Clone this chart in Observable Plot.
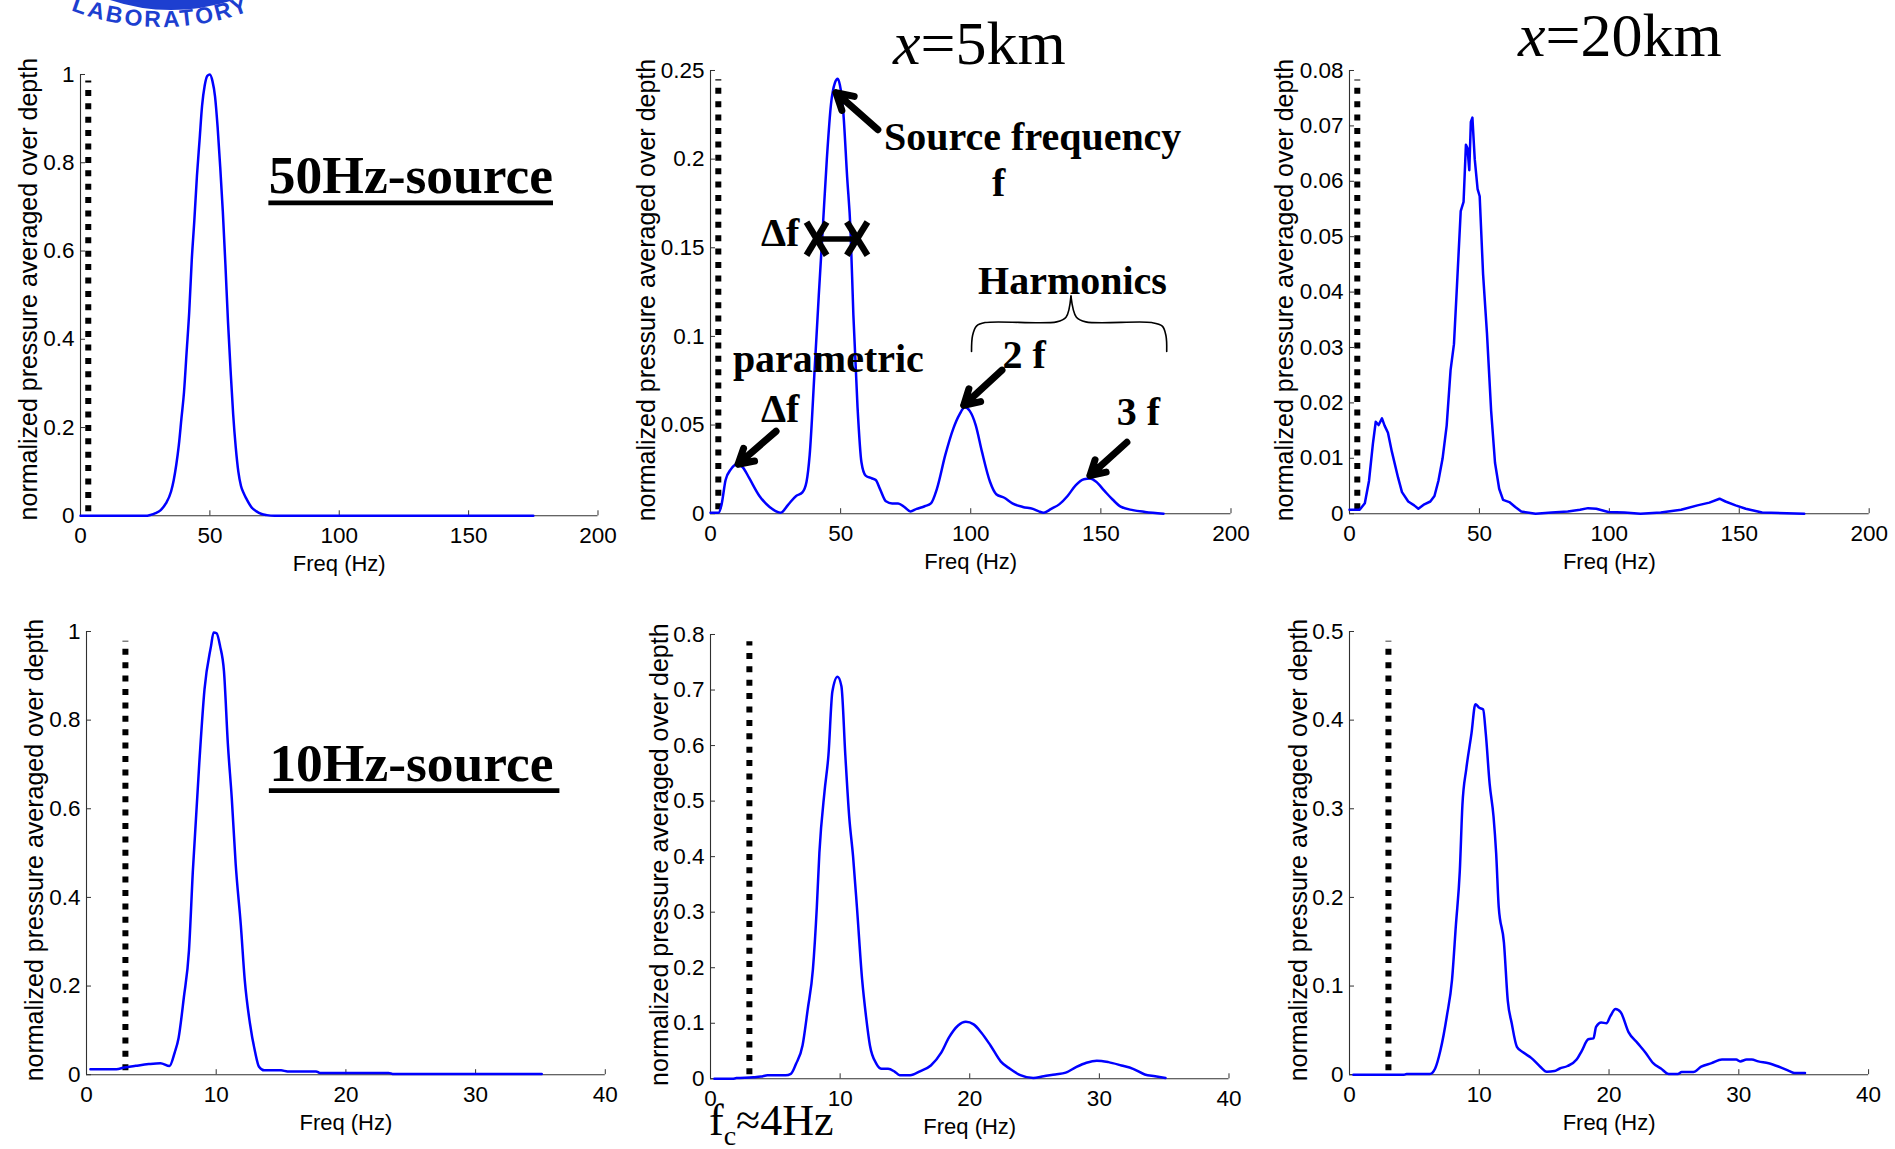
<!DOCTYPE html>
<html><head><meta charset="utf-8">
<script src="https://cdn.jsdelivr.net/npm/d3@7"></script>
<script src="https://cdn.jsdelivr.net/npm/@observablehq/plot@0.6"></script>
<style>
html,body{margin:0;padding:0;background:#fff;}
#root{position:relative;width:1895px;height:1149px;overflow:hidden;background:#fff;}
.panel{position:absolute;}
#overlay{position:absolute;left:0;top:0;}
</style></head><body><div id="root"></div>
<script>
// ---------- DATA ----------
const yLabel = "normalized pressure averaged over depth";
const xLabel = "Freq (Hz)";
const cutoffFreq = 3;
const xTicks50 = [0, 50, 100, 150, 200];
const xTicks10 = [0, 10, 20, 30, 40];
const yTicksA = [0, 0.2, 0.4, 0.6, 0.8, 1];
const yTicksB = [0, 0.05, 0.1, 0.15, 0.2, 0.25];
const yTicksC = [0, 0.01, 0.02, 0.03, 0.04, 0.05, 0.06, 0.07, 0.08];
const yTicksD = [0, 0.1, 0.2, 0.3, 0.4, 0.5, 0.6, 0.7, 0.8];
const yTicksE = [0, 0.1, 0.2, 0.3, 0.4, 0.5];
const dottedTop = [0.985, 0.2448, 0.0783, 0.978, 0.787, 0.489];

// 50 Hz source, at source
const fA = [0, 10, 20, 25, 27, 29, 31, 33, 35, 36, 37, 38, 39, 40, 41, 42, 43, 44, 45, 46, 47, 48, 49, 50, 51, 52, 53, 54, 55, 56, 57, 58, 59, 60, 61, 62, 63, 64, 66, 68, 70, 72, 75, 100, 125, 150, 175];
const vA = [0, 0, 0, 0, 0.002, 0.006, 0.013, 0.028, 0.055, 0.08, 0.115, 0.16, 0.22, 0.28, 0.37, 0.46, 0.58, 0.67, 0.77, 0.85, 0.93, 0.975, 0.997, 1.0, 0.985, 0.95, 0.88, 0.79, 0.69, 0.57, 0.44, 0.33, 0.23, 0.155, 0.10, 0.068, 0.052, 0.04, 0.02, 0.01, 0.004, 0.0015, 0, 0, 0, 0, 0];
// 50 Hz source, x = 5 km
const fB = [0, 3.1, 4.2, 5.8, 7.8, 10.5, 12.5, 14.9, 18.8, 22.7, 27, 29.8, 32.9, 35.3, 36.9, 38.1, 40, 41.6, 43.1, 44.7, 46.3, 47.8, 48.9, 49.7, 51, 52.5, 53.8, 54.9, 56.5, 58, 59.6, 61.9, 63.5, 65.1, 67.4, 69.8, 72.1, 74.5, 76.8, 79.2, 82.3, 84.7, 87, 90.2, 93.3, 95.7, 97.7, 99.6, 101.9, 104.3, 107.4, 109.8, 112.9, 116, 120, 123.9, 126.2, 128.1, 130.9, 134.1, 137.2, 140.3, 143.5, 145.8, 148.2, 151.3, 154.5, 157.6, 162.3, 167, 174.1];
const vB = [0.0006, 0.0006, 0.0048, 0.019, 0.025, 0.028, 0.026, 0.02, 0.01, 0.0038, 0.0006, 0.005, 0.01, 0.012, 0.018, 0.033, 0.081, 0.123, 0.16, 0.2, 0.231, 0.243, 0.2454, 0.242, 0.227, 0.19, 0.16, 0.112, 0.06, 0.029, 0.0215, 0.02, 0.019, 0.014, 0.007, 0.0058, 0.0058, 0.0038, 0.0013, 0.0027, 0.0042, 0.0058, 0.014, 0.033, 0.048, 0.056, 0.060, 0.058, 0.05, 0.035, 0.018, 0.011, 0.009, 0.0058, 0.0038, 0.0027, 0.0013, 0.0006, 0.0027, 0.0054, 0.01, 0.016, 0.0194, 0.0198, 0.018, 0.013, 0.008, 0.004, 0.002, 0.001, 0];
// 50 Hz source, x = 20 km
const fC = [0, 3.9, 5.9, 7.5, 9.0, 10.1, 11.2, 12.5, 13.5, 14.8, 16.3, 18.7, 20.2, 22.6, 24.9, 26.5, 28.8, 31.1, 32.7, 34.2, 35.8, 37.4, 38.9, 40.2, 41.3, 42.8, 43.9, 44.8, 45.4, 46.1, 46.7, 47.3, 48.2, 49.3, 50.1, 51.4, 52.9, 54.5, 56, 57.6, 59.1, 61.5, 63.8, 66.1, 71.6, 77.8, 84, 88.7, 91.8, 95, 99.6, 105.8, 112, 119.8, 127.6, 133.9, 138.5, 142.4, 144.7, 148.6, 152.5, 158.8, 175];
const vC = [0.0007, 0.0007, 0.0019, 0.0059, 0.0126, 0.0166, 0.016, 0.0172, 0.0159, 0.0146, 0.0112, 0.0065, 0.0039, 0.0022, 0.0015, 0.0009, 0.0017, 0.0022, 0.0032, 0.0059, 0.0099, 0.0159, 0.0259, 0.0306, 0.0406, 0.0546, 0.0563, 0.0666, 0.066, 0.062, 0.0707, 0.0715, 0.064, 0.0586, 0.0573, 0.0433, 0.0326, 0.0186, 0.0092, 0.0045, 0.0025, 0.0021, 0.0012, 0.0004, 0, 0.0002, 0.0004, 0.0007, 0.001, 0.0009, 0.0003, 0.0002, 0, 0.0002, 0.0007, 0.0015, 0.002, 0.0027, 0.0022, 0.0015, 0.0009, 0.0002, 0];
// 10 Hz source, at source
const fD = [0.3, 2.3, 2.9, 3.8, 4.8, 5.7, 6.4, 6.8, 7.1, 7.5, 7.9, 8.2, 8.7, 9.1, 9.6, 9.8, 10.03, 10.3, 10.6, 10.9, 11.2, 11.5, 11.9, 12.2, 12.6, 13.0, 13.3, 13.7, 15, 15.5, 17.7, 18, 23.3, 23.6, 35.1];
const vD = [0.0123, 0.0123, 0.016, 0.02, 0.024, 0.026, 0.0196, 0.05, 0.083, 0.173, 0.28, 0.46, 0.705, 0.87, 0.967, 0.998, 0.996, 0.967, 0.91, 0.746, 0.624, 0.476, 0.337, 0.214, 0.116, 0.051, 0.018, 0.0098, 0.0098, 0.0074, 0.0074, 0.004, 0.004, 0.0016, 0.0016];
// 10 Hz source, x = 5 km
const fE = [0.3, 1.7, 2.0, 3.3, 3.9, 4.4, 5.8, 6.2, 6.6, 7.1, 7.5, 7.9, 8.2, 8.4, 8.8, 9.1, 9.4, 9.8, 10.1, 10.4, 10.7, 11.0, 11.3, 11.7, 12.0, 12.3, 12.8, 13.2, 13.7, 14.2, 14.6, 15.4, 16.2, 17.0, 17.8, 18.4, 19.1, 19.7, 20.3, 20.9, 21.6, 22.4, 23.1, 23.9, 24.9, 25.7, 26.6, 27.4, 28.2, 29.0, 29.8, 30.7, 31.7, 32.6, 33.5, 34.3, 35.1];
const vE = [0, 0, 0.0013, 0.0026, 0.004, 0.0065, 0.0065, 0.009, 0.027, 0.06, 0.125, 0.197, 0.308, 0.407, 0.518, 0.583, 0.697, 0.724, 0.707, 0.583, 0.472, 0.4, 0.308, 0.178, 0.112, 0.06, 0.027, 0.018, 0.018, 0.013, 0.0065, 0.0065, 0.014, 0.024, 0.047, 0.0745, 0.096, 0.1026, 0.098, 0.083, 0.06, 0.031, 0.018, 0.0065, 0.0013, 0.0046, 0.0078, 0.011, 0.021, 0.029, 0.0327, 0.030, 0.024, 0.018, 0.0078, 0.0046, 0.0013];
// 10 Hz source, x = 20 km
const fF = [0.3, 4.2, 4.4, 6.2, 6.6, 7.0, 7.5, 7.9, 8.2, 8.5, 8.7, 9.0, 9.4, 9.7, 10.0, 10.3, 10.5, 10.8, 11.1, 11.3, 11.5, 11.9, 12.2, 12.5, 12.9, 13.4, 14.0, 14.7, 15.2, 15.8, 16.2, 16.8, 17.5, 17.9, 18.4, 18.8, 19.0, 19.4, 19.8, 20.1, 20.5, 20.9, 21.5, 22.2, 22.8, 23.4, 24.0, 24.6, 25.3, 25.6, 26.5, 27.1, 27.9, 28.7, 29.8, 30.1, 30.6, 31.0, 31.5, 32.3, 33.1, 33.9, 34.3, 35.1];
const vF = [0, 0, 0.0008, 0.0008, 0.007, 0.027, 0.066, 0.107, 0.169, 0.23, 0.304, 0.345, 0.385, 0.418, 0.414, 0.412, 0.385, 0.328, 0.291, 0.25, 0.189, 0.149, 0.083, 0.058, 0.0315, 0.025, 0.019, 0.009, 0.0033, 0.0041, 0.007, 0.0098, 0.017, 0.027, 0.04, 0.041, 0.054, 0.059, 0.058, 0.066, 0.074, 0.0704, 0.048, 0.0356, 0.025, 0.013, 0.007, 0.0008, 0.0008, 0.003, 0.003, 0.009, 0.013, 0.017, 0.017, 0.015, 0.017, 0.017, 0.015, 0.013, 0.009, 0.0041, 0.002, 0.002];

// ---------- ANNOTATIONS (data coordinates) ----------
const notesB = [
  {t: "Source frequency", x: 66.7, y: 0.205},
  {t: "f", x: 108.2, y: 0.179},
  {t: "Δf", x: 19.4, y: 0.151},
  {t: "Harmonics", x: 102.8, y: 0.1238},
  {t: "parametric", x: 8.6, y: 0.0798},
  {t: "Δf", x: 19.4, y: 0.0516},
  {t: "2 f", x: 112.2, y: 0.0821},
  {t: "3 f", x: 156.1, y: 0.0499}
];
const arrowsB = [
  {x1: 64.3, y1: 0.2166, x2: 48.2, y2: 0.2375},
  {x1: 25.2, y1: 0.0465, x2: 10.6, y2: 0.0279},
  {x1: 112, y1: 0.081, x2: 97.3, y2: 0.0611},
  {x1: 160, y1: 0.0403, x2: 145.8, y2: 0.0215}
];
const widthMarkB = [
  {x1: 40.8, y1: 0.155, x2: 55.9, y2: 0.155, w: 5.5},
  {x1: 36.9, y1: 0.1645, x2: 44.6, y2: 0.1458, w: 6.5},
  {x1: 36.9, y1: 0.1458, x2: 44.6, y2: 0.1645, w: 6.5},
  {x1: 52.4, y1: 0.1645, x2: 60.3, y2: 0.1458, w: 6.5},
  {x1: 52.4, y1: 0.1458, x2: 60.3, y2: 0.1645, w: 6.5}
];
const braceB = [
  {s: "L", x: 100.3, y: 0.0915}, {s: "L", x: 100.7, y: 0.1005}, {s: "L", x: 102.2, y: 0.1058}, {s: "L", x: 105.5, y: 0.1078}, {s: "L", x: 133, y: 0.1082}, {s: "L", x: 136.6, y: 0.1108}, {s: "L", x: 138.5, y: 0.1227},
  {s: "R", x: 138.5, y: 0.1227}, {s: "R", x: 140.6, y: 0.1108}, {s: "R", x: 144.2, y: 0.1082}, {s: "R", x: 169.5, y: 0.1078}, {s: "R", x: 173.6, y: 0.1058}, {s: "R", x: 175.0, y: 0.1005}, {s: "R", x: 175.3, y: 0.0915}
];

// ---------- RENDER ----------
const root = document.getElementById("root");
const serif = "'Liberation Serif', 'Times New Roman', serif";
const sans = "'Liberation Sans', Arial, Helvetica, sans-serif";
const bold40 = {fontFamily: serif, fontWeight: "bold", fontSize: 40, fill: "black", textAnchor: "start", lineAnchor: "bottom"};

function sourceTitle(text, x, y, ux1, ux2, uy) {
  return [
    Plot.text([text], {text: d => d, x: () => x, y: () => y, fontFamily: serif, fontWeight: "bold", fontSize: 53.5, textAnchor: "start", lineAnchor: "bottom", fill: "black"}),
    Plot.ruleY([uy], {x1: ux1, x2: ux2, stroke: "black", strokeWidth: 4.6})
  ];
}

const panels = [
  {L: 79.5, T: 74, R: 597, B: 515.3, f: fA, v: vA, xd: [0, 200], yd: [0, 1], xt: xTicks50, yt: yTicksA, top: dottedTop[0], curve: "monotone-x", ydx: -51.5, ydy: -6,
   extra: sourceTitle("50Hz-source", 72.8, 0.731, 72.8, 182.8, 0.709)},
  {L: 709.5, T: 70.3, R: 1230, B: 513.5, f: fB, v: vB, xd: [0, 200], yd: [0, 0.25], xt: xTicks50, yt: yTicksB, top: dottedTop[1], curve: "monotone-x", ydx: -63.5, ydy: -2,
   extra: [
     Plot.line(braceB, {x: "x", y: "y", z: "s", stroke: "black", strokeWidth: 1.6, curve: "catmull-rom"}),
     Plot.link(widthMarkB, {x1: "x1", y1: "y1", x2: "x2", y2: "y2", stroke: "black", strokeWidth: "w", strokeLinecap: "butt"}),
     Plot.arrow(arrowsB, {x1: "x1", y1: "y1", x2: "x2", y2: "y2", stroke: "black", strokeWidth: 7, headLength: 30, headAngle: 60}),
     Plot.text(notesB, {x: "x", y: "y", text: "t", ...bold40})
   ]},
  {L: 1349.3, T: 70.3, R: 1869, B: 513.5, f: fC, v: vC, xd: [0, 200], yd: [0, 0.08], xt: xTicks50, yt: yTicksC, top: dottedTop[2], curve: "linear", ydx: -65, ydy: -2, extra: []},
  {L: 85.5, T: 631, R: 604.3, B: 1074.2, f: fD, v: vD, xd: [0, 40], yd: [0, 1], xt: xTicks10, yt: yTicksA, top: dottedTop[3], curve: "monotone-x", ydx: -51.5, ydy: -3,
   extra: sourceTitle("10Hz-source", 14.1, 0.6616, 14.1, 36.5, 0.641)},
  {L: 709.5, T: 634, R: 1228, B: 1078.3, f: fE, v: vE, xd: [0, 40], yd: [0, 0.8], xt: xTicks10, yt: yTicksD, top: dottedTop[4], curve: "monotone-x", ydx: -51, ydy: -2, extra: []},
  {L: 1349.2, T: 631, R: 1868.3, B: 1074.2, f: fF, v: vF, xd: [0, 40], yd: [0, 0.5], xt: xTicks10, yt: yTicksE, top: dottedTop[5], curve: "monotone-x", ydx: -51, ydy: -3, extra: []}
];

const ml = 80, mr = 24, mt = 24, mb = 72;
for (const p of panels) {
  const w = p.R - p.L, h = p.B - p.T;
  const data = p.f.map((f, i) => ({f, v: p.v[i]}));
  const svg = Plot.plot({
    width: w + ml + mr, height: h + mt + mb,
    marginLeft: ml, marginRight: mr, marginTop: mt, marginBottom: mb,
    x: {domain: p.xd}, y: {domain: p.yd},
    style: {fontFamily: sans, fontSize: "22.5px", color: "#000", background: "transparent", overflow: "visible", maxWidth: "none"},
    marks: [
      Plot.ruleX([p.xd[0]], {stroke: "#303030", strokeWidth: 1.1}),
      Plot.ruleY([p.yd[0]], {stroke: "#303030", strokeWidth: 1.1}),
      Plot.axisX({ticks: p.xt, tickSize: -5, tickFormat: () => "", label: null, stroke: "#303030"}),
      Plot.axisY({ticks: p.yt, tickSize: -5, tickFormat: () => "", label: null, stroke: "#303030"}),
      Plot.text(p.xt, {x: d => d, text: d => String(d), frameAnchor: "bottom", textAnchor: "middle", lineAnchor: "top", dy: 11, fontSize: 22.5, fill: "black"}),
      Plot.text(p.yt, {y: d => d, text: d => String(d), frameAnchor: "left", textAnchor: "end", lineAnchor: "middle", dx: -6, fontSize: 22.5, fill: "black"}),
      Plot.ruleX([cutoffFreq], {y1: 0, y2: p.top, stroke: "black", strokeWidth: 6, strokeDasharray: "6,7.4", strokeDashoffset: 9.4}),
      Plot.line(data, {x: "f", y: "v", stroke: "#0000ff", strokeWidth: 2.5, curve: p.curve}),
      Plot.text([yLabel], {text: d => d, frameAnchor: "left", textAnchor: "middle", lineAnchor: "middle", rotate: -90, dx: p.ydx, dy: p.ydy, fontSize: 25, fill: "black"}),
      Plot.text([xLabel], {text: d => d, frameAnchor: "bottom", textAnchor: "middle", lineAnchor: "middle", dy: 48, fontSize: 22, fill: "black"}),
      ...p.extra
    ]
  });
  const div = document.createElement("div");
  div.className = "panel";
  div.style.left = (p.L - ml) + "px";
  div.style.top = (p.T - mt) + "px";
  div.style.width = (w + ml + mr) + "px";
  div.appendChild(svg);
  root.appendChild(div);
}

// ---------- OVERLAY: titles, caption, logo ----------
const ns = "http://www.w3.org/2000/svg";
const ov = document.createElementNS(ns, "svg");
ov.setAttribute("id", "overlay");
ov.setAttribute("width", 1895);
ov.setAttribute("height", 1149);
ov.innerHTML = `
  <defs><path id="logoArc" d="M 52 2 A 250 250 0 0 0 270 2"/></defs>
  <path d="M 110 0 Q 170 20 234 0 Z" fill="#1d3fd0"/>
  <text font-family="'Liberation Sans', Arial, sans-serif" font-weight="bold" font-size="23" fill="#1d3fd0" letter-spacing="2.5">
    <textPath href="#logoArc" startOffset="50%" text-anchor="middle">LABORATORY</textPath>
  </text>
  <text x="893" y="64" font-family="${serif}" font-size="62" fill="black"><tspan font-style="italic">x</tspan>=5km</text>
  <text x="1518" y="56" font-family="${serif}" font-size="62" fill="black"><tspan font-style="italic">x</tspan>=20km</text>
  <text x="709" y="1135" font-family="${serif}" font-size="44" fill="black">f<tspan font-size="28" dy="10">c</tspan><tspan dy="-10">≈4Hz</tspan></text>
`;
root.appendChild(ov);
</script>
</body></html>
